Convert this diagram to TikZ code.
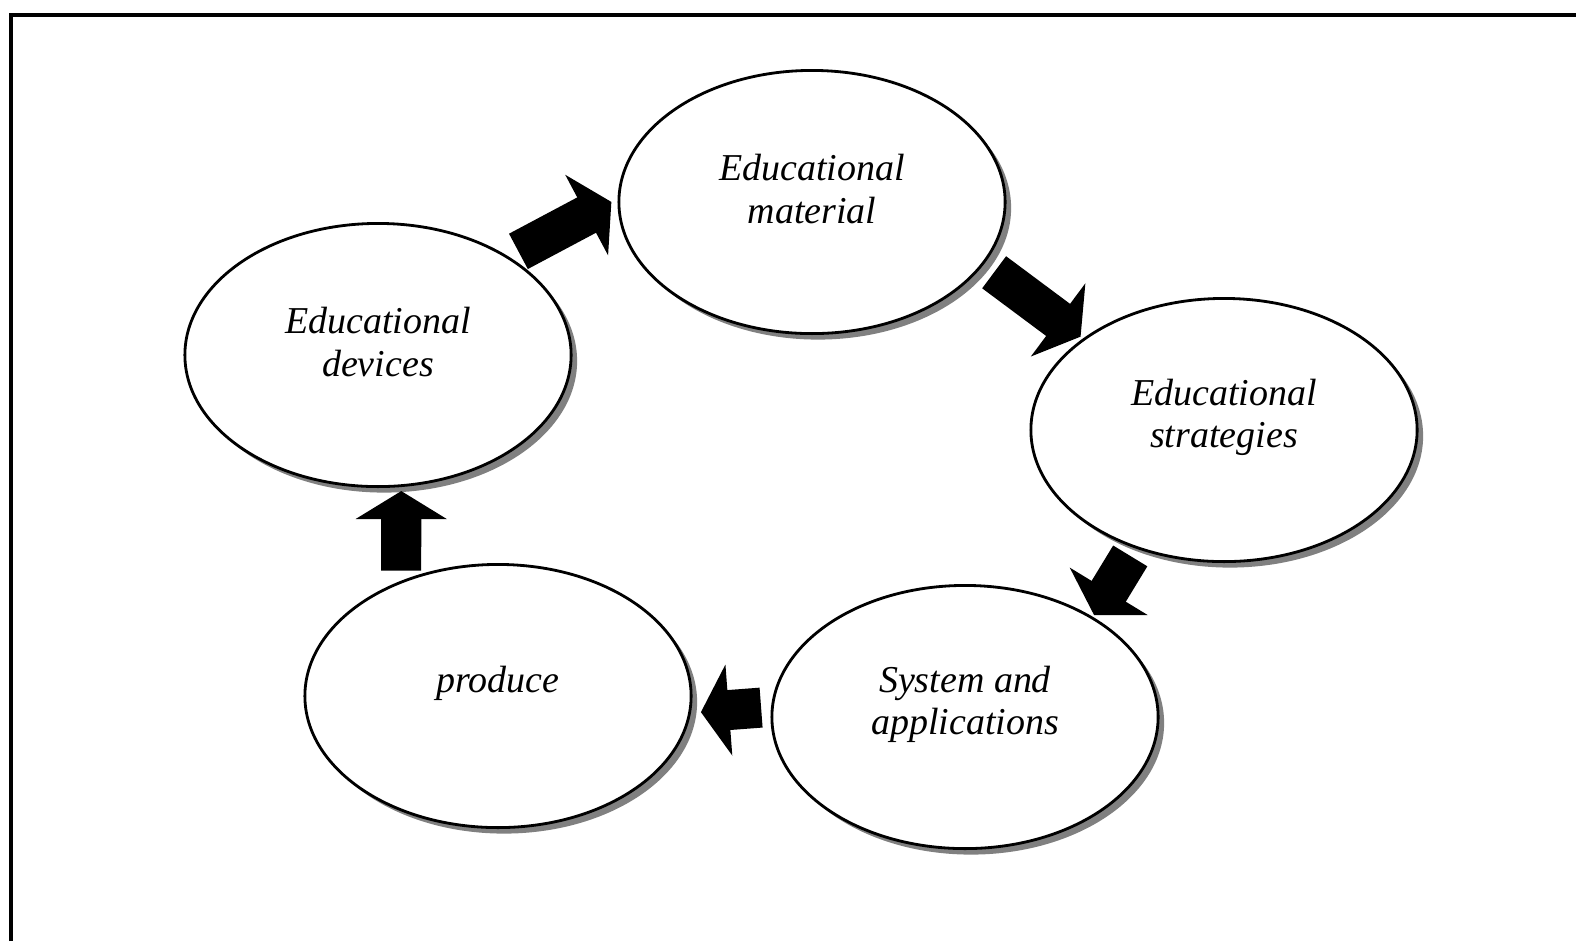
\documentclass[tikz,border=0pt]{standalone}
\usepackage{fontspec}
\setmainfont{Liberation Serif}
\usetikzlibrary{shapes.geometric,shadows,arrows.meta}
\tikzset{
  cyc/.style={
    draw, ellipse, fill=white, line width=0.8pt, minimum width=3.86cm,
    minimum height=2.63cm, inner sep=0mm,
    drop shadow={shadow xshift=0.06cm, shadow yshift=-0.06cm, fill=black!50, opacity=1}
  },
  txt/.style={
    align=center, font=\fontsize{10.8}{12}\selectfont\itshape, yshift=0.13cm
  },
  bigarrow/.style={
    -{Triangle[width=0.9cm, length=0.28cm]}, line width=0.4cm
  }
}

\begin{document}
\begin{tikzpicture}[x=0.01cm, y=-0.01cm]
   \useasboundingbox (0,0) rectangle (1576,941);
   \draw[line width=1pt] (11,941) -- (11,15) -- (1576,15);

   \node[cyc, label={[txt]center:Educational\\material}] (mat) at (812,202) {};
   \node[cyc, label={[txt]center:Educational\\devices}] (dev) at (378,355) {};
   \node[cyc, label={[txt]center:Educational\\strategies}] (str) at (1224,430) {};
   \node[cyc, label={[txt]center:System and\\applications}] (sys) at (965,717) {};
   \node[cyc, label={[txt]center:produce}] (pro) at (498,696) {};

   \draw[bigarrow, shorten <=0.11cm, shorten >=0.07cm] (dev.37) -- (mat.179);
   \draw[bigarrow, shorten <=0.13cm, shorten >=0.03cm] (mat.-20) -- (str.147);
   \draw[bigarrow, shorten <=0.09cm, shorten >=0.02cm] (str.233) -- (sys.38);
   \draw[bigarrow, shorten <=0.10cm, shorten >=0.10cm] (sys.177) -- (pro.-5);
   \draw[bigarrow, shorten <=0.10cm, shorten >=0.04cm] (pro.130) -- (dev.-80);
\end{tikzpicture}
\end{document}
